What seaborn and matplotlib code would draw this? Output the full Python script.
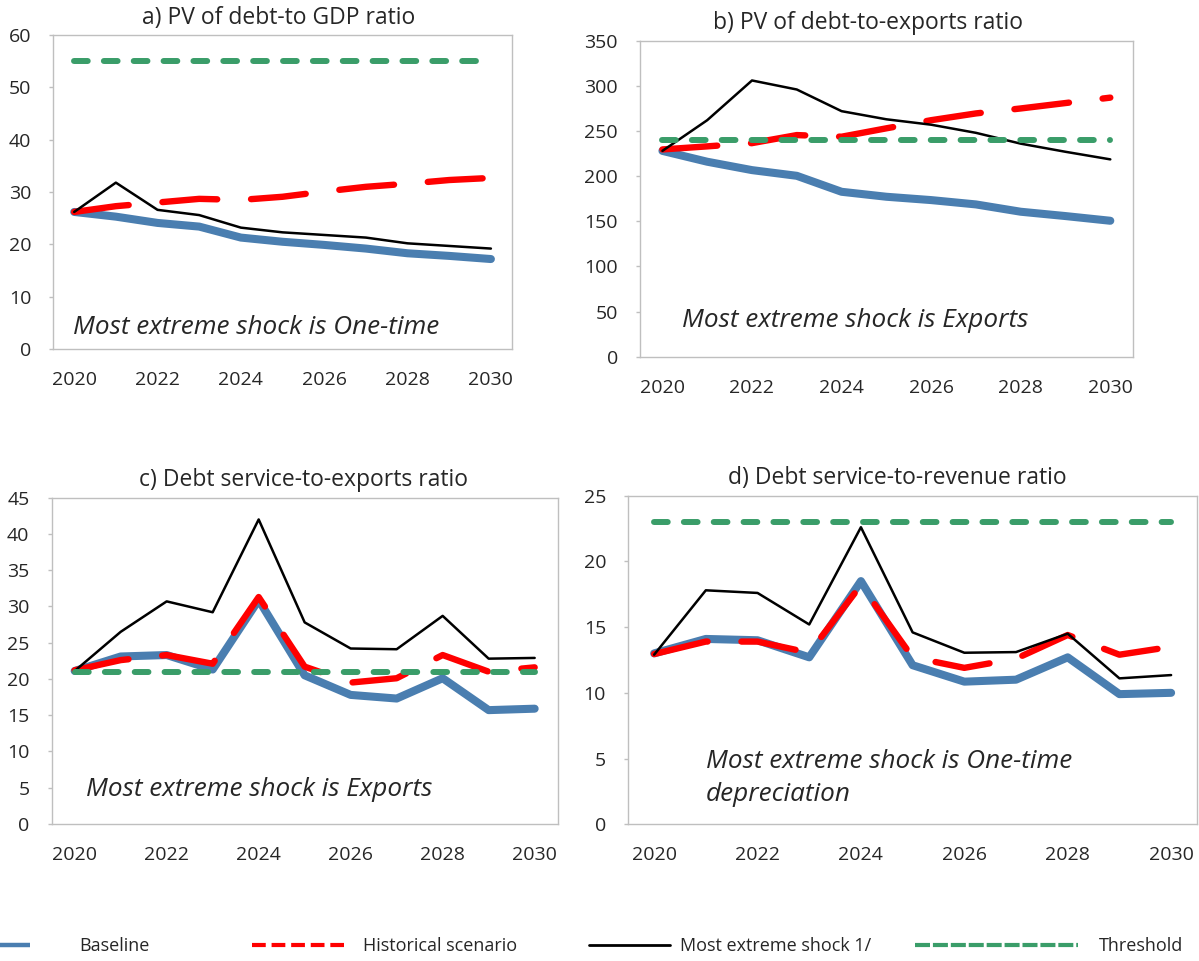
import numpy as np
import pandas as pd
import matplotlib
matplotlib.use('Agg')
import matplotlib.pyplot as plt
from matplotlib.lines import Line2D
import seaborn as sns

# Năm dự báo
years = [2020, 2021, 2022, 2023, 2024, 2025, 2026, 2027, 2028, 2029, 2030]

# a) PV of debt-to GDP ratio
a_baseline = [26.2, 25.3, 24.1, 23.4, 21.3, 20.5, 19.9, 19.2, 18.3, 17.8, 17.2]
a_historical = [26.2, 27.3, 28.0, 28.7, 28.5, 29.1, 30.1, 31.0, 31.6, 32.3, 32.7]
a_shock = [26.2, 31.8, 26.6, 25.6, 23.2, 22.3, 21.8, 21.3, 20.2, 19.7, 19.2]
a_threshold = [55, 55, 55, 55, 55, 55, 55, 55, 55, 55, 55]

# b) PV of debt-to-exports ratio
b_baseline = [228, 216, 206.7, 200.4, 182.7, 177.2, 173.5, 168.7, 160.6, 155.8, 150.6]
b_historical = [229.6, 233, 236.6, 245.5, 243.7, 253, 262, 269.5, 275, 281, 287]
b_shock = [228, 262, 306, 296, 272, 263, 257, 248, 236, 227, 218.6]
b_threshold = [240, 240, 240, 240, 240, 240, 240, 240, 240, 240, 240]

# c) Debt service-to-exports ratio
c_baseline = [21.1, 23.1, 23.3, 21.3, 30.9, 20.5, 17.8, 17.3, 20.1, 15.7, 15.9]
c_historical = [21.2, 22.6, 23.3, 22.1, 31.3, 21.7, 19.5, 20.1, 23.3, 21.0, 21.6]
c_shock = [21.1, 26.5, 30.7, 29.2, 42.0, 27.8, 24.2, 24.1, 28.7, 22.8, 22.9]
c_threshold = [21, 21, 21, 21, 21, 21, 21, 21, 21, 21, 21]

# d) Debt service-to-revenue ratio
d_baseline = [13.0, 14.1, 14.0, 12.7, 18.5, 12.1, 10.85, 11.0, 12.7, 9.9, 10.0]
d_historical = [12.95, 13.9, 13.9, 13.05, 18.2, 12.7, 11.9, 12.6, 14.4, 12.9, 13.5]
d_shock = [12.9, 17.8, 17.6, 15.2, 22.6, 14.6, 13.05, 13.1, 14.5, 11.1, 11.35]
d_threshold = [23, 23, 23, 23, 23, 23, 23, 23, 23, 23, 23]

series_labels = ['Baseline', 'Historical scenario', 'Most extreme shock 1/', 'Threshold']

sns.set_style('white')
plt.rcParams['font.family'] = ['Open Sans', 'DejaVu Sans']

BLUE = '#4A7EB0'
RED = '#FF0000'
GREEN = '#3A9D69'
GRID = '#BFBFBF'

fig = plt.figure(figsize=(11.99, 9.61), dpi=100)


def draw_panel(rect, title, title_x, note, note_xy, baseline, historical, shock, threshold, ymax, ystep):
    ax = fig.add_axes(rect)
    sns.lineplot(x=years, y=baseline, ax=ax, color=BLUE, linewidth=5.8, legend=False,
                 solid_capstyle='round', solid_joinstyle='round', label=series_labels[0])
    sns.lineplot(x=years, y=historical, ax=ax, color=RED, linewidth=4.6, legend=False,
                 linestyle=(0, (8.6, 5.3)), dash_capstyle='round', dash_joinstyle='round',
                 label=series_labels[1])
    sns.lineplot(x=years, y=shock, ax=ax, color='black', linewidth=1.8, legend=False,
                 label=series_labels[2])
    sns.lineplot(x=years, y=threshold, ax=ax, color=GREEN, linewidth=4.3, legend=False,
                 linestyle=(0, (2.3, 2.7)), dash_capstyle='round', label=series_labels[3])

    ax.set_xlim(2019.5, 2030.5)
    ax.set_ylim(0, ymax)
    ax.set_xticks(years[::2])
    ax.set_xticks(np.arange(2021.5, 2030, 2), minor=True)
    ax.set_yticks(np.arange(0, ymax + ystep / 2, ystep))
    ax.tick_params(axis='x', which='major', length=0, pad=16, labelsize=14)
    ax.tick_params(axis='x', which='minor', direction='in', length=4.5, width=1, color=GRID)
    ax.tick_params(axis='y', length=3, width=1, color=GRID, pad=13, labelsize=14, left=True)
    for sp in ax.spines.values():
        sp.set_visible(True)
        sp.set_color(GRID)
        sp.set_linewidth(1.0)
    ax.set_xlabel('')
    ax.set_ylabel('')

    ax.annotate(title, xy=(title_x, 1), xycoords='axes fraction', xytext=(0, 12.5),
                textcoords='offset points', ha='center', va='center', fontsize=16.5)
    ax.text(note_xy[0], note_xy[1], note, transform=ax.transAxes, ha='left', va='center',
            fontsize=18.8, style='italic', linespacing=1.42)
    return ax


ax_a = draw_panel([0.0445, 0.6368, 0.3823, 0.3267], 'a) PV of debt-to GDP ratio', 0.4915,
                  'Most extreme shock is One-time', (0.043, 0.067),
                  a_baseline, a_historical, a_shock, a_threshold, 60, 10)
ax_b = draw_panel([0.5338, 0.6288, 0.4109, 0.3288], 'b) PV of debt-to-exports ratio', 0.462,
                  'Most extreme shock is Exports', (0.085, 0.114),
                  b_baseline, b_historical, b_shock, b_threshold, 350, 50)
ax_c = draw_panel([0.0431, 0.1426, 0.4220, 0.3395], 'c) Debt service-to-exports ratio', 0.497,
                  'Most extreme shock is Exports', (0.068, 0.106),
                  c_baseline, c_historical, c_shock, c_threshold, 45, 5)
ax_d = draw_panel([0.5240, 0.1423, 0.4743, 0.3419], 'd) Debt service-to-revenue ratio', 0.473,
                  'Most extreme shock is One-time\ndepreciation', (0.136, 0.142),
                  d_baseline, d_historical, d_shock, d_threshold, 25, 5)

# Chú thích chung ở dưới: mỗi mục một legend riêng (độ dài ký hiệu khác nhau như bản gốc)
legend_keys = [
    Line2D([], [], color=BLUE, linewidth=3.2, solid_capstyle='butt'),
    Line2D([], [], color=RED, linewidth=3.0, linestyle=(0, (3.3, 1.4))),
    Line2D([], [], color='black', linewidth=2.0),
    Line2D([], [], color=GREEN, linewidth=3.0, linestyle=(0, (3.6, 0.7))),
]
legend_x = [-0.053, 0.2102, 0.4912, 0.7631]
legend_len = [5.2, 5.1, 4.5, 9.05]
legend_pad = [2.7, 1.05, 0.55, 1.15]
for key, lab, lx, hl, hp in zip(legend_keys, series_labels, legend_x, legend_len, legend_pad):
    fig.legend([key], [lab], loc='center left', bbox_to_anchor=(lx, 0.0156),
               frameon=False, fontsize=13, handlelength=hl, handletextpad=hp,
               borderpad=0, borderaxespad=0)

plt.savefig('out.png', dpi=100)
